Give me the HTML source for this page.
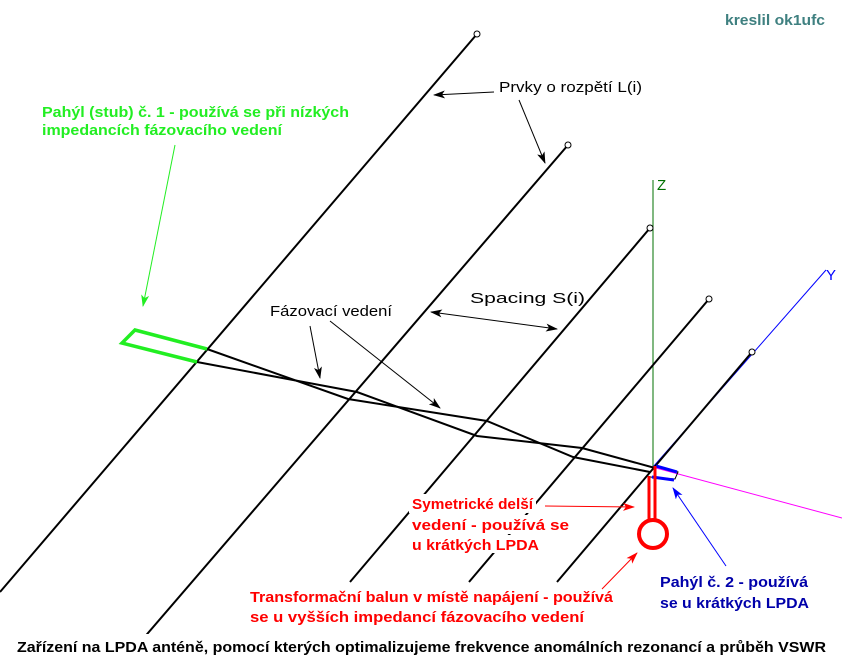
<!DOCTYPE html>
<html><head><meta charset="utf-8"><style>
html,body{margin:0;padding:0;background:#fff;}
svg{display:block;}
text{font-family:"Liberation Sans",Arial,sans-serif;font-size:15px;}
.b{font-weight:bold;}
</style></head><body>
<svg width="842" height="666" viewBox="0 0 842 666" xmlns="http://www.w3.org/2000/svg">
<defs>
<marker id="ak" markerWidth="12" markerHeight="8" refX="11" refY="4" orient="auto" markerUnits="userSpaceOnUse"><path d="M0,0 L12,4 L0,8 L3,4 Z" fill="#000"/></marker>
<marker id="aks" markerWidth="12" markerHeight="8" refX="1" refY="4" orient="auto" markerUnits="userSpaceOnUse"><path d="M12,0 L0,4 L12,8 L9,4 Z" fill="#000"/></marker>
<marker id="ag" markerWidth="12" markerHeight="8" refX="11" refY="4" orient="auto" markerUnits="userSpaceOnUse"><path d="M0,0 L12,4 L0,8 L3,4 Z" fill="#22ee22"/></marker>
<marker id="ar" markerWidth="12" markerHeight="8" refX="11" refY="4" orient="auto" markerUnits="userSpaceOnUse"><path d="M0,0 L12,4 L0,8 L3,4 Z" fill="#ff0000"/></marker>
<marker id="ab" markerWidth="12" markerHeight="8" refX="11" refY="4" orient="auto" markerUnits="userSpaceOnUse"><path d="M0,0 L12,4 L0,8 L3,4 Z" fill="#0000ff"/></marker>
</defs>
<line x1="653" y1="180" x2="653" y2="467" stroke="#007000" stroke-width="1"/>
<text x="657" y="190" fill="#007000" font-size="12">Z</text>
<line x1="653" y1="467" x2="826" y2="270" stroke="#0000ff" stroke-width="1"/>
<text x="826" y="280" fill="#0000ff" font-size="12">Y</text>
<line x1="656" y1="468" x2="842" y2="518" stroke="#ff00ff" stroke-width="1"/>
<g stroke="#000" stroke-width="2" fill="none">
<line x1="477" y1="34" x2="0" y2="592"/>
<line x1="568" y1="145" x2="142" y2="640"/>
<line x1="650" y1="228" x2="350" y2="582"/>
<line x1="709" y1="299" x2="469" y2="582"/>
<line x1="752" y1="352" x2="557" y2="582"/>
</g>
<g stroke="#000" stroke-width="1" fill="#fff">
<circle cx="477" cy="34" r="3"/><circle cx="568" cy="145" r="3"/><circle cx="650" cy="228" r="3"/><circle cx="709" cy="299" r="3"/><circle cx="752" cy="352" r="3"/>
</g>
<g stroke="#000" stroke-width="2" fill="none">
<polyline points="207,349 348,399 487,421 573,457 650,472"/>
<polyline points="197,362 357,392 477,436 582,448 655,468"/>
</g>
<polyline points="207,349 135,330 122,343 197,362" stroke="#22ee22" stroke-width="3.5" fill="none"/>
<polyline points="656,466 678,472 675,479 650,477" stroke="#000" stroke-width="1" fill="none"/>
<line x1="656" y1="466" x2="677" y2="472" stroke="#0000ff" stroke-width="3"/>
<line x1="652" y1="477" x2="674" y2="480" stroke="#0000ff" stroke-width="3"/>
<line x1="649" y1="476" x2="649" y2="519" stroke="#ff0000" stroke-width="3"/>
<line x1="655" y1="466" x2="655" y2="519" stroke="#ff0000" stroke-width="3"/>
<circle cx="653" cy="534" r="14" stroke="#ff0000" stroke-width="4" fill="#fff"/>
<!-- text backgrounds (per line) -->
<rect x="409" y="494" width="127" height="19" fill="#fff"/>
<rect x="409" y="515" width="163" height="19" fill="#fff"/>
<rect x="409" y="535" width="133" height="18" fill="#fff"/>
<rect x="246" y="586" width="370" height="19" fill="#fff"/>
<rect x="246" y="606" width="342" height="19" fill="#fff"/>
<rect x="12" y="634" width="820" height="22" fill="#fff"/>
<line x1="494" y1="92" x2="434" y2="95" stroke="#000" stroke-width="1" marker-end="url(#ak)"/>
<line x1="519" y1="100" x2="545" y2="163" stroke="#000" stroke-width="1" marker-end="url(#ak)"/>
<line x1="431" y1="312" x2="557" y2="329" stroke="#000" stroke-width="1" marker-start="url(#aks)" marker-end="url(#ak)"/>
<line x1="310" y1="326" x2="320" y2="378" stroke="#000" stroke-width="1" marker-end="url(#ak)"/>
<line x1="330" y1="321" x2="440" y2="408" stroke="#000" stroke-width="1" marker-end="url(#ak)"/>
<line x1="175" y1="145" x2="143" y2="306" stroke="#22ee22" stroke-width="1" marker-end="url(#ag)"/>
<line x1="545" y1="506" x2="634" y2="507" stroke="#ff0000" stroke-width="1" marker-end="url(#ar)"/>
<line x1="602" y1="589" x2="637" y2="553" stroke="#ff0000" stroke-width="1" marker-end="url(#ar)"/>
<line x1="726" y1="566" x2="673" y2="488" stroke="#0000ff" stroke-width="1" marker-end="url(#ab)"/>
<text class="b" x="725" y="25" fill="#3f8080" textLength="100" lengthAdjust="spacingAndGlyphs">kreslil ok1ufc</text>
<text x="499" y="92" fill="#000" font-size="16" textLength="143" lengthAdjust="spacingAndGlyphs">Prvky o rozpětí L(i)</text>
<text x="470" y="303" fill="#000" font-size="16" textLength="115" lengthAdjust="spacingAndGlyphs">Spacing S(i)</text>
<text x="270" y="316" fill="#000" font-size="16" textLength="122" lengthAdjust="spacingAndGlyphs">Fázovací vedení</text>
<text class="b" x="42" y="117" fill="#22ee22" textLength="307" lengthAdjust="spacingAndGlyphs">Pahýl (stub) č. 1 - používá se při nízkých</text>
<text class="b" x="42" y="135" fill="#22ee22" textLength="240" lengthAdjust="spacingAndGlyphs">impedancích fázovacího vedení</text>
<text class="b" x="412" y="509" fill="#ff0000" textLength="121" lengthAdjust="spacingAndGlyphs">Symetrické delší</text>
<text class="b" x="412" y="530" fill="#ff0000" textLength="157" lengthAdjust="spacingAndGlyphs">vedení - používá se</text>
<text class="b" x="412" y="550" fill="#ff0000" textLength="127" lengthAdjust="spacingAndGlyphs">u krátkých LPDA</text>
<text class="b" x="250" y="602" fill="#ff0000" textLength="363" lengthAdjust="spacingAndGlyphs">Transformační balun v místě napájení - používá</text>
<text class="b" x="250" y="622" fill="#ff0000" textLength="334" lengthAdjust="spacingAndGlyphs">se u vyšších impedancí fázovacího vedení</text>
<text class="b" x="660" y="587" fill="#0000aa" textLength="148" lengthAdjust="spacingAndGlyphs">Pahýl č. 2 - používá</text>
<text class="b" x="660" y="608" fill="#0000aa" textLength="149" lengthAdjust="spacingAndGlyphs">se u krátkých LPDA</text>
<text class="b" x="17" y="652" fill="#000" textLength="809" lengthAdjust="spacingAndGlyphs">Zařízení na LPDA anténě, pomocí kterých optimalizujeme frekvence anomálních rezonancí a průběh VSWR</text>
</svg>
</body></html>
